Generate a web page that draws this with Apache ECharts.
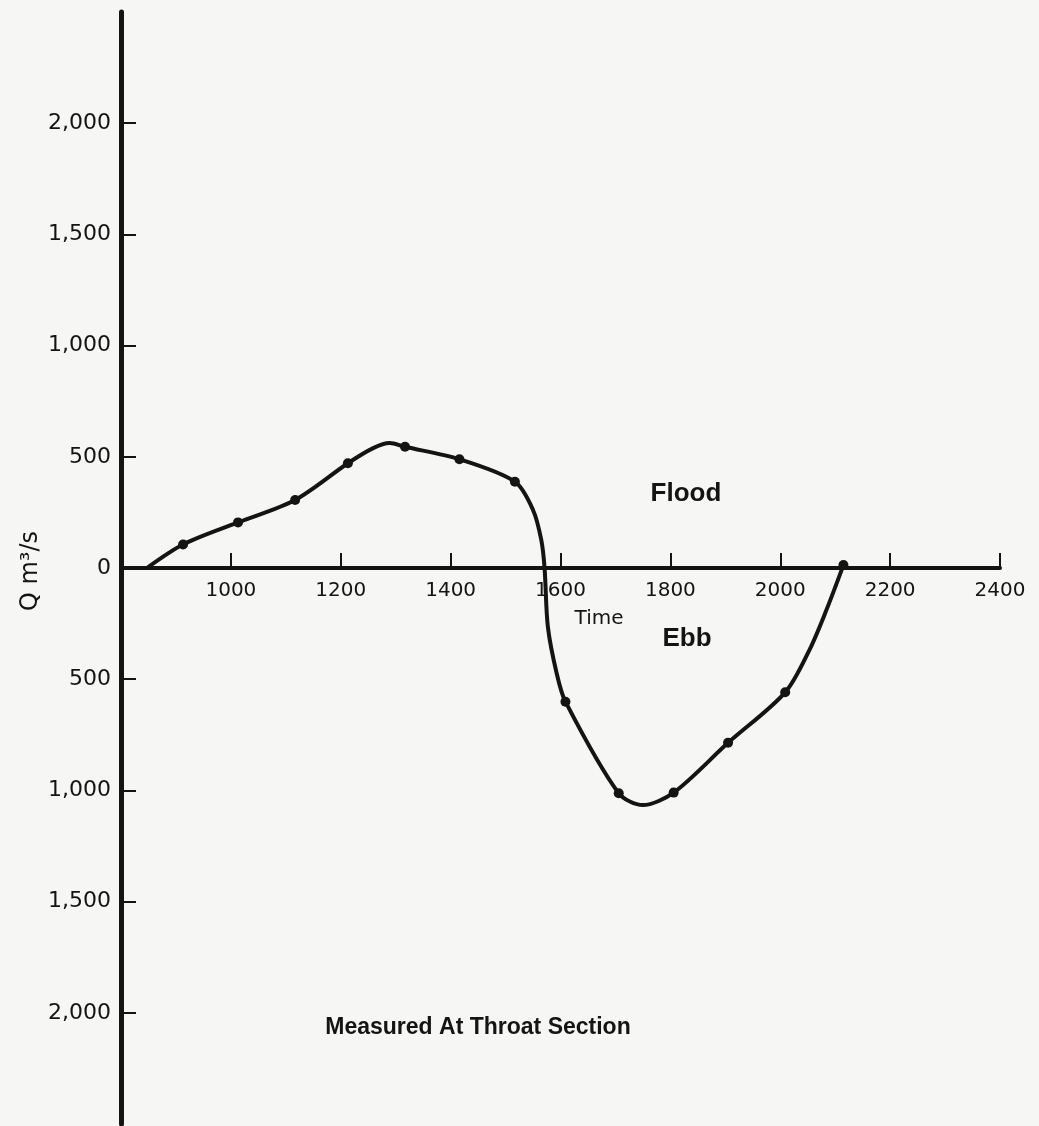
<!DOCTYPE html>
<html>
<head>
<meta charset="utf-8">
<script src="https://cdn.jsdelivr.net/npm/echarts@6/dist/echarts.min.js"></script>
<style>
  html, body { margin: 0; padding: 0; background: #f6f6f4; }
  #chart { width: 1039px; height: 1126px; }
</style>
</head>
<body>
<div id="chart"></div>
<script>
// Smooth curve (time, discharge; ebb negative)
const curveTime = [847, 913, 1013, 1117, 1213, 1259, 1289, 1317, 1416, 1517, 1550, 1565, 1571, 1577, 1593, 1609, 1706, 1750, 1806, 1905, 2009, 2053, 2084, 2115];
const curveQ    = [0, 106, 205, 306, 471, 539, 562, 545, 489, 388, 261, 126, 0, -264, -473, -601, -1013, -1066, -1010, -786, -559, -369, -189, 13];

// Measured points (dots)
const measuredTime = [913, 1013, 1117, 1213, 1317, 1416, 1517, 1609, 1706, 1806, 1905, 2009, 2115];
const measuredQ    = [106, 205, 306, 471, 545, 489, 388, -601, -1013, -1010, -786, -559, 13];

// Axis tick values
const xTicks = [1000, 1200, 1400, 1600, 1800, 2000, 2200, 2400];
const yTicks = [-2000, -1500, -1000, -500, 500, 1000, 1500, 2000];
const yLabels = [-2000, -1500, -1000, -500, 0, 500, 1000, 1500, 2000];

const ink = '#141414';
const gridTop = 12, gridBottom = 2, H = 1126;
const zeroOffset = -((H - gridBottom) - (gridTop + (H - gridTop - gridBottom) / 2));

const curveData = curveTime.map((t, i) => [t, curveQ[i]]);
const pointData = measuredTime.map((t, i) => [t, measuredQ[i]]);

const chart = echarts.init(document.getElementById('chart'));
chart.setOption({
  backgroundColor: '#f6f6f4',
  animation: false,
  grid: { left: 121, right: 39, top: gridTop, bottom: gridBottom, containLabel: false, outerBoundsMode: 'none' },
  xAxis: {
    type: 'value', min: 800, max: 2400, interval: 200,
    position: 'bottom', offset: zeroOffset,
    splitLine: { show: false },
    axisLine: { onZero: false, lineStyle: { color: ink, width: 4 } },
    axisTick: { inside: true, length: 15, customValues: xTicks, lineStyle: { color: ink, width: 2 } },
    axisLabel: { customValues: xTicks, margin: 13, color: ink, fontFamily: 'DejaVu Sans', fontSize: 20,
      formatter: v => String(v) }
  },
  yAxis: {
    type: 'value', min: -2500, max: 2500, interval: 500,
    splitLine: { show: false },
    axisLine: { show: true, onZero: false, lineStyle: { color: ink, width: 5 } },
    axisTick: { show: true, inside: true, length: 15, customValues: yTicks, lineStyle: { color: ink, width: 2 } },
    axisLabel: {
      customValues: yLabels, margin: 10, color: ink, fontFamily: 'DejaVu Sans', fontSize: 22,
      formatter: v => Math.abs(v).toLocaleString('en-US')
    }
  },
  series: [
    {
      type: 'line', data: curveData, smooth: 0.3, showSymbol: false,
      lineStyle: { color: ink, width: 4 }, z: 3
    },
    {
      type: 'scatter', data: pointData, symbol: 'circle', symbolSize: 10,
      itemStyle: { color: ink, opacity: 1 }, z: 4
    }
  ],
  graphic: [
    { type: 'text', x: 31, y: 571, rotation: Math.PI / 2,
      style: { text: 'Q m³/s', font: '24px "DejaVu Sans"', fill: ink, textAlign: 'center', textVerticalAlign: 'middle' } },
    { type: 'text', x: 686, y: 494,
      style: { text: 'Flood', font: 'bold 26px "Liberation Sans"', fill: ink, textAlign: 'center', textVerticalAlign: 'middle' } },
    { type: 'text', x: 687, y: 639,
      style: { text: 'Ebb', font: 'bold 26px "Liberation Sans"', fill: ink, textAlign: 'center', textVerticalAlign: 'middle' } },
    { type: 'text', x: 599, y: 619,
      style: { text: 'Time', font: '20px "DejaVu Sans"', fill: ink, textAlign: 'center', textVerticalAlign: 'middle' } },
    { type: 'text', x: 478, y: 1028,
      style: { text: 'Measured At Throat Section', font: 'bold 23px "Liberation Sans"', fill: ink, textAlign: 'center', textVerticalAlign: 'middle' } }
  ]
});
</script>
</body>
</html>
